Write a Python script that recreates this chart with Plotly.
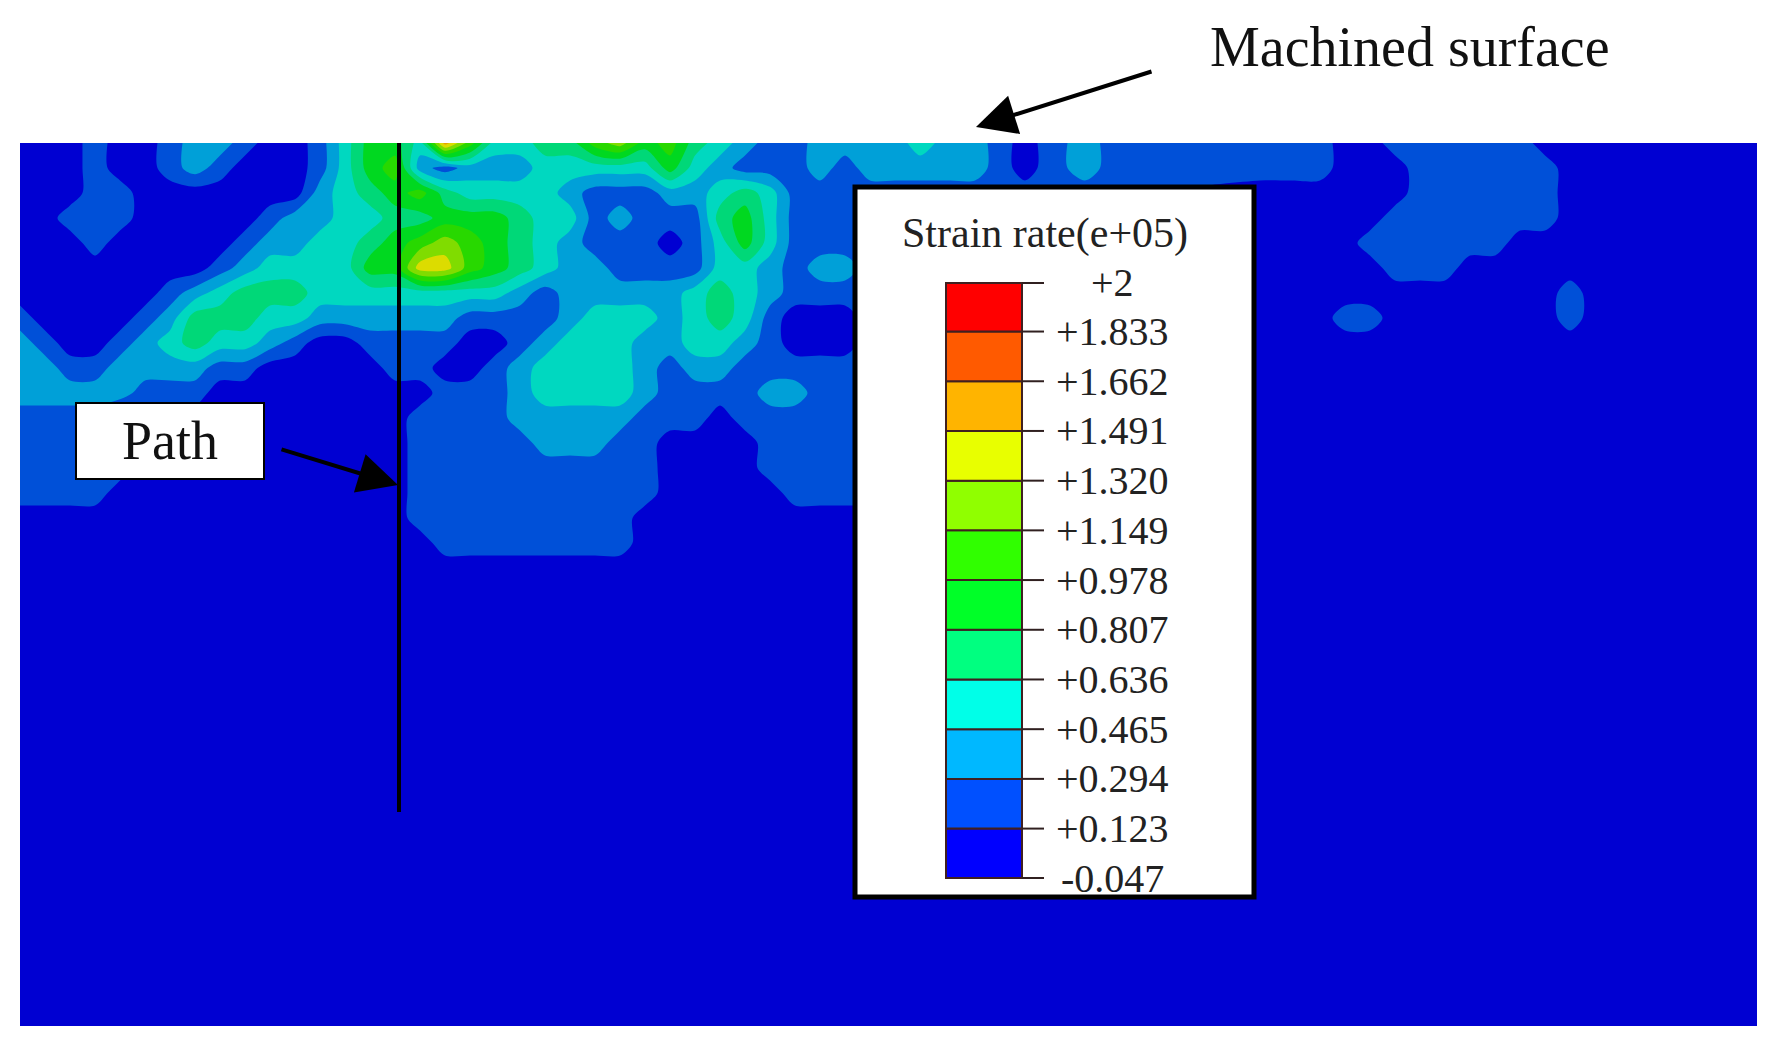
import plotly.graph_objects as go

W, H = 1776, 1052
MARGIN = 8  # page body margin around the figure
FIG_W, FIG_H = W - 2 * MARGIN, H - 2 * MARGIN
FIELD_X = [20, 1757]
FIELD_Y = [143, 1026]
BOX_X = [855, 1254]
BOX_Y = [187, 897]


def dom_x(a, b):
    return [(a - MARGIN) / FIG_W, (b - MARGIN) / FIG_W]


def dom_y(top, bottom):
    return [1 - (bottom - MARGIN) / FIG_H, 1 - (top - MARGIN) / FIG_H]


level_values = [-0.047, 0.123, 0.294, 0.465, 0.636, 0.807, 0.978, 1.149, 1.320, 1.491, 1.662, 1.833, 2.0]
level_labels = ["-0.047", "+0.123", "+0.294", "+0.465", "+0.636", "+0.807", "+0.978", "+1.149", "+1.320", "+1.491", "+1.662", "+1.833", "+2"]
legend_colors = ["#0000FF", "#0050FF", "#00B8FF", "#00FFE8", "#00FF80", "#00FF28", "#30FF00", "#90FF00", "#E8FF00", "#FFB400", "#FF5A00", "#FF0000"]
field_colors = ["#0000D2", "#0050D8", "#00A0D8", "#00D8C0", "#00D878", "#00D820", "#28D800", "#80DC00", "#DCDC00", "#E8A000", "#E85000", "#E00000"]

grid_x = [20, 45, 70, 95, 120, 145, 170, 195, 220, 245, 270, 295, 320, 345, 370, 395, 420, 445, 470, 495,
          520, 545, 570, 595, 620, 645, 670, 695, 720, 745, 770, 795, 820, 845,
          870, 895, 920, 950, 975, 1000, 1025, 1050, 1085, 1115, 1260, 1290, 1320, 1345, 1370, 1395, 1420,
          1445, 1470, 1495, 1520, 1545, 1570, 1595, 1757]
grid_y = [143, 168, 193, 218, 243, 268, 293, 318, 343, 368, 393, 418, 443, 468, 493, 518, 543, 568, 593, 1026]

# colour band at each grid point (0 = lowest band)
band_143 = [0,0,0,1,0,0,1,2,2,1,0,0,1,3,5,5,3,9,6,3,3,4,4,6,7,5,6,4,3,2,1,1,2,2, 2,2,3,2,2,1,0,1,2,1,1,1,1,0,0,1,1,1,1,1,1,0,0,0,0]
band_168 = [0,0,0,1,0,0,1,2,1,0,0,0,1,3,5,6,2,1,2,2,2,3,3,3,3,3,5,3,2,1,1,1,2,1, 2,2,2,2,2,1,0,1,2,1,1,1,1,0,0,0,1,1,1,1,1,1,0,0,0]
band_193 = [0,0,0,1,1,0,0,0,0,0,0,0,2,3,4,5,6,4,3,3,3,3,2,1,1,1,2,2,3,4,3,1,1,1, 1,1,1,1,1,1,1,1,1,1,0,0,0,0,0,0,1,1,1,1,1,1,0,0,0]
band_218 = [0,0,1,1,1,0,0,0,0,0,1,2,2,3,3,4,4,5,5,5,4,3,3,1,2,1,1,1,4,5,3,1,1,1, 1,1,1,1,1,1,1,1,1,1,0,0,0,0,0,1,1,1,1,1,1,1,0,0,0]
band_243 = [0,0,0,1,0,0,0,0,0,1,2,2,3,3,4,5,6,7,6,5,4,3,2,1,1,1,0,1,3,5,3,1,1,1, 1,1,1,1,1,1,1,1,1,1,0,0,0,0,1,1,1,1,1,1,0,0,0,0,0]
band_268 = [0,0,0,0,0,0,0,0,1,2,3,3,3,3,5,5,8,8,6,5,4,3,2,2,1,1,1,1,3,3,2,1,2,2, 1,1,1,1,1,1,1,1,1,1,0,0,0,0,0,1,1,1,0,0,0,0,0,0,0]
band_293 = [0,0,0,0,0,0,1,2,3,4,4,4,3,3,3,3,3,3,3,3,2,1,2,2,2,2,2,3,4,3,2,1,1,1, 1,1,1,1,1,1,1,1,1,1,0,0,0,0,0,0,0,0,0,0,0,0,1,0,0]
band_318 = [1,0,0,0,0,1,2,4,4,4,3,3,2,2,2,2,2,2,1,1,1,1,2,3,3,3,2,3,4,3,1,0,0,0, 1,1,1,1,1,1,1,1,1,1,0,0,0,1,1,0,0,0,0,0,0,0,1,0,0]
band_343 = [2,1,0,0,1,2,3,4,3,3,2,1,0,0,1,1,1,1,0,0,1,2,3,3,3,2,2,3,3,2,1,0,0,0, 1,1,1,1,1,1,1,1,1,1,0,0,0,0,0,0,0,0,0,0,0,0,0,0,0]
band_368 = [2,2,1,1,2,2,2,2,1,1,0,0,0,0,0,1,1,0,0,1,2,3,3,3,3,2,1,2,2,1,1,1,1,1, 1,1,1,1,1,1,1,1,1,1,0,0,0,0,0,0,0,0,0,0,0,0,0,0,0]
band_393 = [2,2,2,2,2,1,1,1,0,0,0,0,0,0,0,0,0,1,1,1,2,3,3,3,3,2,1,1,1,1,2,2,1,1, 1,1,1,1,1,1,1,1,1,1,0,0,0,0,0,0,0,0,0,0,0,0,0,0,0]
band_418 = [1,1,1,1,0,0,0,0,0,0,0,0,0,0,0,0,1,1,1,1,2,2,2,2,2,1,1,1,0,1,1,1,1,1, 1,1,1,1,1,1,1,1,1,1,0,0,0,0,0,0,0,0,0,0,0,0,0,0,0]
band_443 = [1,1,1,1,0,0,0,0,0,0,0,0,0,0,0,0,1,1,1,1,1,2,2,2,1,1,0,0,0,0,1,1,1,1, 1,1,1,1,1,1,1,1,1,1,0,0,0,0,0,0,0,0,0,0,0,0,0,0,0]
band_468 = [1,1,1,1,1,0,0,0,0,0,0,0,0,0,0,0,1,1,1,1,1,1,1,1,1,1,0,0,0,0,1,1,1,1, 1,1,1,1,1,1,1,1,1,1,0,0,0,0,0,0,0,0,0,0,0,0,0,0,0]
band_493 = [1,1,1,1,0,0,0,0,0,0,0,0,0,0,0,0,1,1,1,1,1,1,1,1,1,1,0,0,0,0,0,1,1,1, 1,1,1,1,1,1,1,1,1,1,0,0,0,0,0,0,0,0,0,0,0,0,0,0,0]
band_518 = [0,0,0,0,0,0,0,0,0,0,0,0,0,0,0,0,1,1,1,1,1,1,1,1,1,0,0,0,0,0,0,0,0,0, 0,0,0,0,0,0,0,0,0,0,0,0,0,0,0,0,0,0,0,0,0,0,0,0,0]
band_543 = [0,0,0,0,0,0,0,0,0,0,0,0,0,0,0,0,0,1,1,1,1,1,1,1,1,0,0,0,0,0,0,0,0,0, 0,0,0,0,0,0,0,0,0,0,0,0,0,0,0,0,0,0,0,0,0,0,0,0,0]
band_568 = [0] * 59
band_593 = [0] * 59
band_1026 = [0] * 59

band_rows = [band_143, band_168, band_193, band_218, band_243, band_268, band_293, band_318, band_343, band_368,
             band_393, band_418, band_443, band_468, band_493, band_518, band_543, band_568, band_593, band_1026]
for row in band_rows:
    assert len(row) == len(grid_x), len(row)

band_mid = [(a + b) / 2 for a, b in zip(level_values[:-1], level_values[1:])]
z = [[band_mid[b] for b in row] for row in band_rows]

fig = go.Figure()

n = len(field_colors) - 1
fig.add_trace(go.Contour(
    x=grid_x, y=grid_y, z=z,
    contours=dict(start=level_values[1], end=level_values[-2], size=0.171, coloring="fill", showlines=False),
    colorscale=[[i / n, c] for i, c in enumerate(field_colors)],
    line=dict(width=0, smoothing=0.85),
    showscale=False, hoverinfo="skip", xaxis="x", yaxis="y",
))

path_x = [399, 399]
path_y = [143, 812]
fig.add_trace(go.Scatter(x=path_x, y=path_y, mode="lines", line=dict(color="#000000", width=4),
                         showlegend=False, hoverinfo="skip", xaxis="x", yaxis="y"))

# legend colour bar
bar_left, bar_right, tick_end = 946, 1022, 1044
fig.add_trace(go.Bar(
    x=[(bar_left + bar_right) / 2] * len(legend_colors),
    y=[b - a for a, b in zip(level_values[:-1], level_values[1:])],
    base=level_values[:-1], width=bar_right - bar_left,
    marker=dict(color=legend_colors, line=dict(color="#402020", width=2)),
    showlegend=False, hoverinfo="skip", xaxis="x2", yaxis="y2",
))
tick_xs, tick_ys = [], []
for v in level_values:
    tick_xs += [bar_right, tick_end, None]
    tick_ys += [v, v, None]
fig.add_trace(go.Scatter(x=tick_xs, y=tick_ys, mode="lines", line=dict(color="#302020", width=2),
                         showlegend=False, hoverinfo="skip", xaxis="x2", yaxis="y2"))

px_per_unit = (878 - 283) / (level_values[-1] - level_values[0])
y2_top = level_values[-1] + (283 - BOX_Y[0]) / px_per_unit
y2_bot = level_values[0] - (BOX_Y[1] - 878) / px_per_unit

# transparent full-page axes, in reference pixels, for callouts
fig.add_trace(go.Scatter(x=[MARGIN], y=[MARGIN], mode="markers", marker=dict(opacity=0), showlegend=False,
                         hoverinfo="skip", xaxis="x3", yaxis="y3"))

SERIF = "Liberation Serif"
annotations = [
    dict(x=1112, y=v, xref="x2", yref="y2", text=t, showarrow=False, xanchor="center", yanchor="middle",
         font=dict(family=SERIF, size=40, color="#222222"))
    for v, t in zip(level_values, level_labels)
]
annotations += [
    dict(x=1045, y=233, xref="x3", yref="y3", text="Strain rate(e+05)", showarrow=False,
         font=dict(family=SERIF, size=42, color="#222222")),
    dict(x=1410, y=47, xref="x3", yref="y3", text="Machined surface", showarrow=False,
         font=dict(family=SERIF, size=56, color="#111111")),
    dict(x=976, y=127, ax=1153, ay=71, xref="x3", yref="y3", axref="x3", ayref="y3", text="", showarrow=True,
         arrowhead=2, arrowsize=2, arrowwidth=4, arrowcolor="#000000"),
    dict(x=398, y=485, ax=280, ay=449, xref="x3", yref="y3", axref="x3", ayref="y3", text="", showarrow=True,
         arrowhead=2, arrowsize=2, arrowwidth=4, arrowcolor="#000000"),
    dict(x=170, y=441, xref="x3", yref="y3", text="Path", showarrow=False, width=184, height=72, bgcolor="#FFFFFF",
         bordercolor="#000000", borderwidth=2, font=dict(family=SERIF, size=54, color="#111111")),
]

shapes = [
    dict(type="rect", xref="x2", yref="y2", x0=BOX_X[0], x1=BOX_X[1], y0=y2_bot, y1=y2_top, layer="below",
         fillcolor="#FFFFFF", line=dict(width=0)),
    dict(type="rect", xref="x3", yref="y3", x0=BOX_X[0], x1=BOX_X[1], y0=BOX_Y[0], y1=BOX_Y[1], layer="above",
         fillcolor="rgba(0,0,0,0)", line=dict(color="#000000", width=5)),
]

fig.update_layout(
    width=FIG_W, height=FIG_H, margin=dict(l=0, r=0, t=0, b=0, pad=0),
    paper_bgcolor="#FFFFFF", plot_bgcolor="rgba(0,0,0,0)", showlegend=False, barmode="overlay",
    xaxis=dict(domain=dom_x(*FIELD_X), range=FIELD_X, visible=False, fixedrange=True),
    yaxis=dict(domain=dom_y(*FIELD_Y), range=[FIELD_Y[1], FIELD_Y[0]], visible=False, fixedrange=True),
    xaxis2=dict(domain=dom_x(*BOX_X), range=BOX_X, visible=False, anchor="y2", fixedrange=True),
    yaxis2=dict(domain=dom_y(*BOX_Y), range=[y2_bot, y2_top], visible=False, anchor="x2", fixedrange=True),
    xaxis3=dict(domain=[0, 1], range=[MARGIN, W - MARGIN], visible=False, anchor="y3", fixedrange=True),
    yaxis3=dict(domain=[0, 1], range=[H - MARGIN, MARGIN], visible=False, anchor="x3", fixedrange=True),
    annotations=annotations, shapes=shapes,
)
fig.write_html("out.html", config={"displayModeBar": False})
